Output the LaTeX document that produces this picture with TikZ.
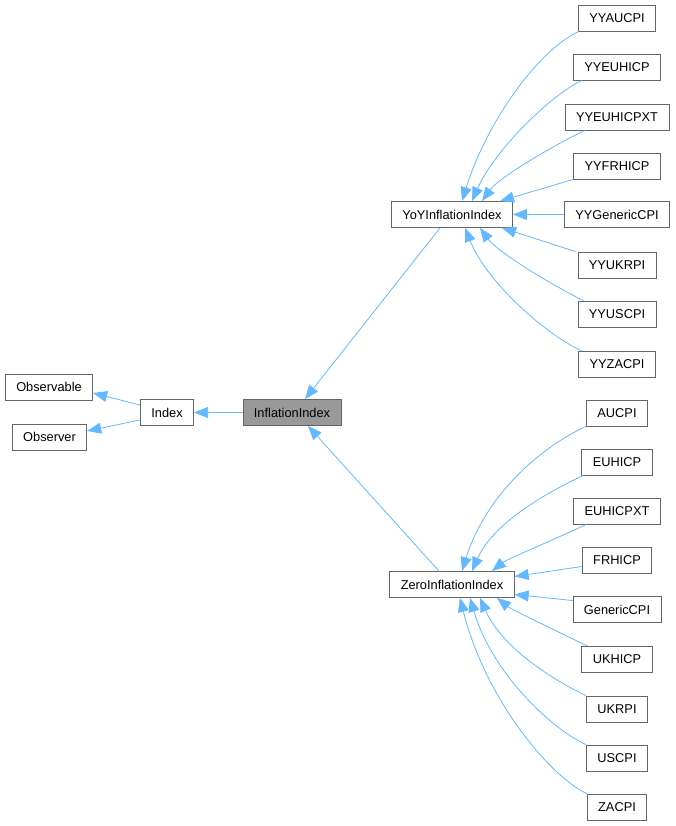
\documentclass[tikz,border=0pt]{standalone}
\usepackage{fontspec}
\setmainfont{Liberation Sans}
\usetikzlibrary{arrows.meta}
\definecolor{edgeblue}{HTML}{63B8FF}
\definecolor{boxline}{HTML}{666666}
\definecolor{hilite}{HTML}{999999}
\tikzset{
  cls/.style={draw=boxline, line width=0.8pt, fill=white, inner xsep=11pt, inner ysep=0pt,
    minimum height=26pt, font=\fontsize{12.8}{14}\selectfont},
  inherit/.style={draw=edgeblue, line width=0.8pt, -{Triangle[length=14pt,width=11pt]}}
}
\begin{document}
\begin{tikzpicture}[x=1pt,y=-1pt]
\useasboundingbox (0,0) rectangle (676,826);
% left part
\node[cls] (Observable) at (49,387) {Observable};
\node[cls] (Observer) at (49.5,437) {Observer};
\node[cls] (Index) at (167,412.5) {Index};
\node[cls, fill=hilite] (InflationIndex) at (292,412.5) {InflationIndex};
\node[cls] (YoYInflationIndex) at (452,214.5) {YoYInflationIndex};
\node[cls] (ZeroInflationIndex) at (452,584.5) {ZeroInflationIndex};
% leaf classes
\foreach \cname/\cy in {YYAUCPI/18, YYEUHICP/67, YYEUHICPXT/117, YYFRHICP/166, YYGenericCPI/214.5,
    YYUKRPI/265, YYUSCPI/314, YYZACPI/364}
  \node[cls] (\cname) at (617,\cy) {\cname};
\foreach \cname/\cy in {AUCPI/413, EUHICP/462, EUHICPXT/511, FRHICP/560.5, GenericCPI/609.5,
    UKHICP/659.5, UKRPI/709, USCPI/758, ZACPI/807}
  \node[cls] (\cname) at (617,\cy) {\cname};

\draw[inherit] (InflationIndex) -- (Index);
\draw[inherit] ([yshift=7.5pt]Index.west) -- ([yshift=-6pt]Observable.east);
\draw[inherit] ([yshift=-7.5pt]Index.west) -- ([yshift=6pt]Observer.east);
\draw[inherit] ([xshift=-12pt]YoYInflationIndex.south) -- ([xshift=13pt]InflationIndex.north);
\draw[inherit] ([xshift=-13pt]ZeroInflationIndex.north) -- ([xshift=16pt]InflationIndex.south);

% YoY children
\draw[inherit] ([xshift=1pt]YYAUCPI.south west) .. controls +(-40,18) and +(25,-80) .. ([xshift=10pt]YoYInflationIndex.north);
\draw[inherit] ([xshift=9pt]YYEUHICP.south west) .. controls +(-32,15) and +(22,-50) .. ([xshift=20pt]YoYInflationIndex.north);
\draw[inherit] ([xshift=20pt]YYEUHICPXT.south west) .. controls +(-25,12) and +(18,-25) .. ([xshift=30pt]YoYInflationIndex.north);
\draw[inherit] (YYFRHICP.south west) -- ([xshift=48pt]YoYInflationIndex.north);
\draw[inherit] (YYGenericCPI) -- (YoYInflationIndex);
\draw[inherit] ([xshift=-2pt]YYUKRPI.north west) -- ([xshift=50pt]YoYInflationIndex.south);
\draw[inherit] ([xshift=6pt]YYUSCPI.north west) .. controls +(-25,-12) and +(18,25) .. ([xshift=28pt]YoYInflationIndex.south);
\draw[inherit] ([xshift=3pt]YYZACPI.north west) .. controls +(-35,-16) and +(22,55) .. ([xshift=13pt]YoYInflationIndex.south);

% Zero children
\draw[inherit] (AUCPI.south west) .. controls +(-40,18) and +(25,-80) .. ([xshift=10pt]ZeroInflationIndex.north);
\draw[inherit] ([xshift=2pt]EUHICP.south west) .. controls +(-32,15) and +(22,-50) .. ([xshift=20pt]ZeroInflationIndex.north);
\draw[inherit] ([xshift=13pt]EUHICPXT.south west) .. controls +(-20,10) and +(15,-12) .. ([xshift=40pt]ZeroInflationIndex.north);
\draw[inherit] ([yshift=-6pt]FRHICP.west) -- ([yshift=8pt]ZeroInflationIndex.east);
\draw[inherit] ([yshift=9pt]GenericCPI.west) -- ([yshift=-10pt]ZeroInflationIndex.east);
\draw[inherit] ([xshift=6pt]UKHICP.north west) .. controls +(-20,-10) and +(15,12) .. ([xshift=45pt]ZeroInflationIndex.south);
\draw[inherit] (UKRPI.north west) .. controls +(-32,-15) and +(22,50) .. ([xshift=28pt]ZeroInflationIndex.south);
\draw[inherit] (USCPI.north west) .. controls +(-35,-16) and +(22,75) .. ([xshift=18pt]ZeroInflationIndex.south);
\draw[inherit] (ZACPI.north west) .. controls +(-38,-18) and +(25,100) .. ([xshift=8pt]ZeroInflationIndex.south);
\end{tikzpicture}
\end{document}
